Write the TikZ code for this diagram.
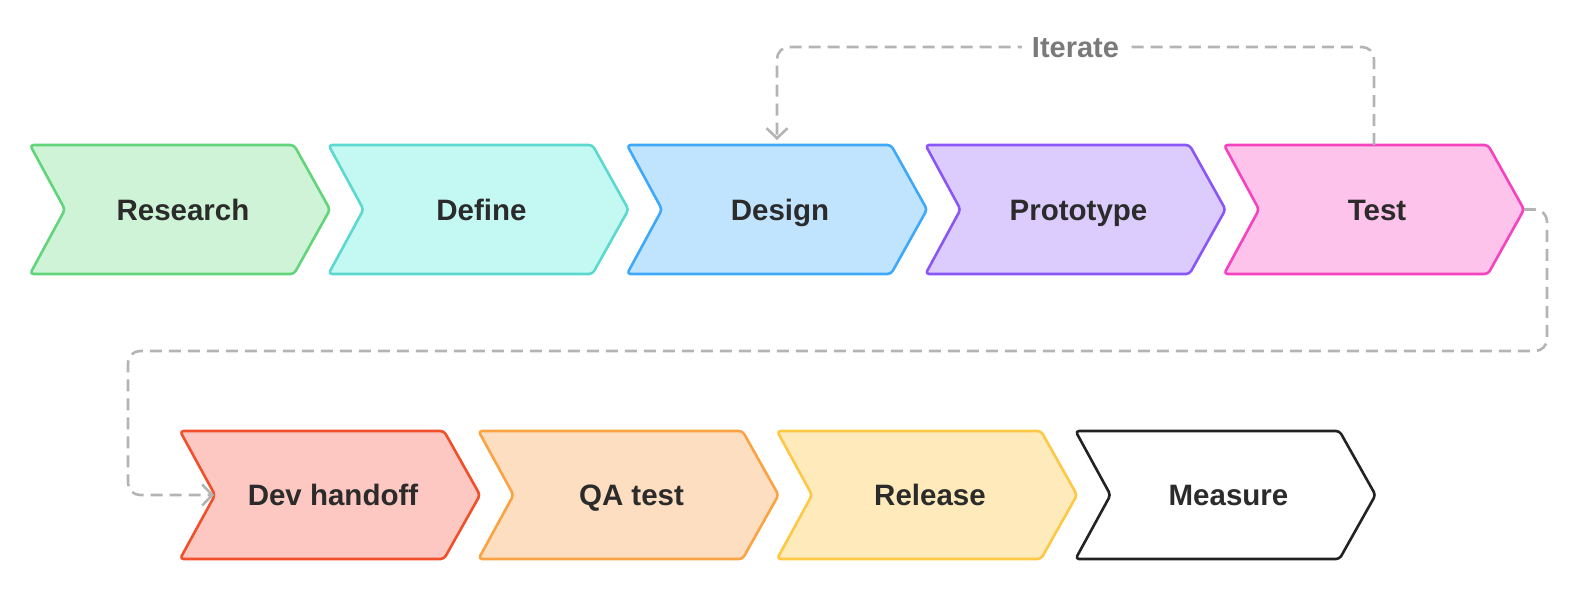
\documentclass[tikz,border=0pt]{standalone}
\usepackage{fontspec}
\setmainfont{Liberation Sans}
\usetikzlibrary{arrows.meta}
\definecolor{txt}{HTML}{2B2B2B}
\definecolor{itxt}{HTML}{7A7A7A}
\definecolor{dash}{HTML}{B4B4B4}
\definecolor{gF}{HTML}{CEF3D6}\definecolor{gD}{HTML}{62D47B}
\definecolor{cF}{HTML}{C3F8F3}\definecolor{cD}{HTML}{5CD9CE}
\definecolor{bF}{HTML}{C0E4FE}\definecolor{bD}{HTML}{3EA9FA}
\definecolor{pF}{HTML}{DCCCFE}\definecolor{pD}{HTML}{8A56F5}
\definecolor{kF}{HTML}{FDC3EA}\definecolor{kD}{HTML}{F542BF}
\definecolor{rF}{HTML}{FDC7C2}\definecolor{rD}{HTML}{F04F2A}
\definecolor{oF}{HTML}{FDDEC1}\definecolor{oD}{HTML}{FBA343}
\definecolor{yF}{HTML}{FEEABA}\definecolor{yD}{HTML}{FDC844}
\definecolor{wF}{HTML}{FFFFFF}\definecolor{wD}{HTML}{222222}
\tikzset{
  chevshape/.style={line width=2.6pt, rounded corners=3.5pt, line join=round},
  steplabel/.style={inner sep=0pt, text height=21.5pt, text depth=0pt, text=txt,
    font=\fontsize{29.5}{35}\selectfont\bfseries},
  conn/.style={draw=dash, line width=2.6pt, dash pattern=on 12pt off 7pt,
    rounded corners=12pt, arrows={-{Straight Barb[length=10pt,width=21pt]}}},
  itlabel/.style={fill=white, inner xsep=10pt, inner ysep=2pt, text=itxt,
    text height=21pt, text depth=0pt,
    font=\fontsize{29}{35}\selectfont\bfseries}
}
% name, x0, ymid, half-height, colour prefix, text
\newcommand\chevron[6]{%
  \draw[chevshape, fill=#5F, draw=#5D]
    (#2,{#3-#4}) -- ({#2+264},{#3-#4}) -- ({#2+300},#3) -- ({#2+264},{#3+#4})
    -- (#2,{#3+#4}) -- ({#2+35},#3) -- cycle;
  \node[steplabel] (#1) at ({#2+153},#3) {#6};
  \coordinate (#1-tip) at ({#2+300},#3);
  \coordinate (#1-notch) at ({#2+35},#3);
  \coordinate (#1-top) at ({#2+150},{#3-#4});
}
\begin{document}
\begin{tikzpicture}[x=1pt,y=-1pt]
\useasboundingbox (0,0) rectangle (1578,597);
\chevron{research}{30}{209.5}{64.5}{g}{Research}
\chevron{define}{328.5}{209.5}{64.5}{c}{Define}
\chevron{design}{627}{209.5}{64.5}{b}{Design}
\chevron{prototype}{925.5}{209.5}{64.5}{p}{Prototype}
\chevron{test}{1224}{209.5}{64.5}{k}{Test}
\chevron{dev}{180}{495}{64}{r}{Dev handoff}
\chevron{qa}{478.5}{495}{64}{o}{QA test}
\chevron{release}{777}{495}{64}{y}{Release}
\chevron{measure}{1075.5}{495}{64}{w}{Measure}
% Iterate loop
\coordinate (itR) at (1374,47);
\coordinate (itL) at (777,47);
\draw[conn, shorten >=5pt] (test-top) -- (itR) -- node[itlabel] (iterate) {Iterate} (itL) -- (design-top);
% Test -> Dev handoff
\coordinate (c1) at (1547,209.5);
\coordinate (c2) at (1547,351);
\coordinate (c3) at (128,351);
\coordinate (c4) at (128,495);
\draw[conn, shorten >=1pt] (test-tip) -- (c1) -- (c2) -- (c3) -- (c4) -- (dev-notch);
\end{tikzpicture}
\end{document}
